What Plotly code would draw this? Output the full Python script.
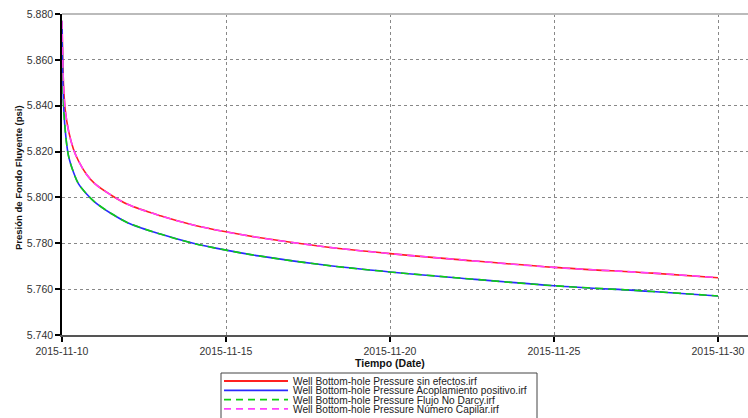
import plotly.graph_objects as go
import pandas as pd

# ---- data ----
days = [0, 0.02, 0.05, 0.1, 0.2, 0.35, 0.5, 0.75, 1, 1.5, 2, 3, 4, 5, 6, 8, 10, 12, 15, 18, 20]
upper_psi = [5877, 5862, 5848, 5838, 5829, 5821, 5816, 5810, 5806, 5801, 5797, 5792, 5788,
             5785, 5782.5, 5778.5, 5775.5, 5773, 5769.5, 5767, 5765]
lower_psi = [5877, 5855, 5840, 5829, 5818, 5811, 5806, 5801.5, 5798, 5793, 5789, 5784, 5780,
             5777, 5774.5, 5770.5, 5767.5, 5765, 5761.5, 5759, 5757]
series_names = [
    "Well Bottom-hole Pressure sin efectos.irf",
    "Well Bottom-hole Pressure Acoplamiento positivo.irf",
    "Well Bottom-hole Pressure Flujo No Darcy.irf",
    "Well Bottom-hole Pressure Número Capilar.irf",
]
series_values = [upper_psi, lower_psi, lower_psi, upper_psi]
series_colors = ["#ff2020", "#2a2aff", "#10d010", "#ff40ff"]
series_dash = ["solid", "solid", "8px,5px", "8px,5px"]
y_ticks = [5740, 5760, 5780, 5800, 5820, 5840, 5860, 5880]
x_tick_dates = ["2015-11-10", "2015-11-15", "2015-11-20", "2015-11-25", "2015-11-30"]

start = pd.Timestamp("2015-11-10")
times = [start + pd.Timedelta(days=d) for d in days]

OFF = 0  # page body margin is removed below, so the figure fills the window
W, H = 748, 418
L, T, R, B = 62, 14, 0, 83
PW, PH = W - L - R, H - T - B
X_FIRST_PX, X_LAST_PX = 62, 718          # pixel positions of 11-10 and 11-30
range_days = 20 * PW / (X_LAST_PX - X_FIRST_PX)


def px_x(px):
    return (px - OFF - L) / PW


def px_y(py):
    return (OFF + H - B - py) / PH


fig = go.Figure()
for name, vals, col, dash in zip(series_names, series_values, series_colors, series_dash):
    fig.add_trace(go.Scatter(x=times, y=vals, mode="lines", name=name,
                             line=dict(color=col, width=1.6, dash=dash, shape="spline"),
                             showlegend=False, hoverinfo="skip"))

font_main = "Liberation Sans, Arial, sans-serif"

fig.update_layout(
    width=W, height=H,
    margin=dict(l=L, t=T, r=R, b=B, pad=0, autoexpand=False),
    paper_bgcolor="white", plot_bgcolor="white",
    separators=",.",
    hovermode=False,
    font=dict(family=font_main, size=10.5, color="#333333"),
    xaxis=dict(
        range=[start, start + pd.Timedelta(days=range_days)],
        tickvals=x_tick_dates, ticktext=x_tick_dates, automargin=False,
        ticklabeloverflow="allow",
        showgrid=True, gridcolor="#888888", griddash="dot", gridwidth=1,
        showline=True, linecolor="#555555", linewidth=2,
        ticks="outside", ticklen=5, tickcolor="#000000", tickwidth=1.5,
        zeroline=False, tickfont=dict(size=10.5, color="#333333"),
    ),
    yaxis=dict(
        range=[5740, 5880], automargin=False,
        ticklabeloverflow="allow",
        tickvals=y_ticks, tickformat=",d",
        showgrid=True, gridcolor="#888888", griddash="dot", gridwidth=1,
        showline=True, linecolor="#000000", linewidth=1.5,
        ticks="outside", ticklen=5, tickcolor="#000000", tickwidth=1.5,
        zeroline=False, tickfont=dict(size=10.5, color="#333333"),
    ),
)

shapes = []
annotations = []
# top border
shapes.append(dict(type="line", xref="paper", yref="paper", x0=0, x1=1, y0=1, y1=1,
                   line=dict(color="#bbbbbb", width=2)))

# axis titles
annotations.append(dict(text="<b>Tiempo (Date)</b>", xref="paper", yref="paper",
                        x=px_x(390), y=px_y(363), showarrow=False,
                        font=dict(size=10.5, color="#111111"), xanchor="center", yanchor="middle"))
annotations.append(dict(text="<b>Presión de Fondo Fluyente (psi)</b>", xref="paper", yref="paper",
                        x=px_x(18), y=px_y(178), showarrow=False, textangle=-90,
                        font=dict(size=9.5, color="#111111"), xanchor="center", yanchor="middle"))

# legend box (manual)
shapes.append(dict(type="rect", xref="paper", yref="paper",
                   x0=px_x(221), x1=px_x(537), y0=px_y(422), y1=px_y(373),
                   line=dict(color="#444444", width=1), fillcolor="white"))
for i, (name, col, dash) in enumerate(zip(series_names, series_colors, series_dash)):
    yy = 381 + 9.3 * i
    shapes.append(dict(type="line", xref="paper", yref="paper",
                       x0=px_x(224), x1=px_x(288), y0=px_y(yy), y1=px_y(yy),
                       line=dict(color=col, width=1.8, dash="7px,5px" if dash != "solid" else "solid")))
    annotations.append(dict(text=name, xref="paper", yref="paper", x=px_x(291), y=px_y(yy + 0.5),
                            showarrow=False, xanchor="left", yanchor="middle",
                            font=dict(size=10.2, color="#222222")))

fig.update_layout(shapes=shapes, annotations=annotations)
fig.write_html("out.html",
               config={"displayModeBar": False},
               post_script="document.body.style.margin='0';document.body.style.overflow='hidden';")
